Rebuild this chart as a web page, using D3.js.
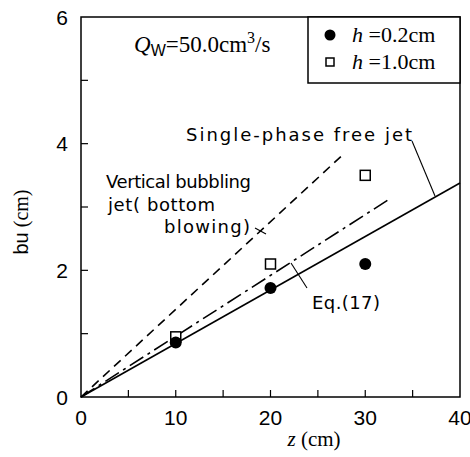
<!DOCTYPE html>
<html>
<head>
    <meta charset="utf-8">
    <title>bu vs z</title>
    <script src="https://d3js.org/d3.v7.min.js"></script>
    <style>
        body { margin: 0; background: #fff; }
    </style>
</head>
<body>
    <script type="text/javascript">
    // data
    const circleZ = [10, 20, 30];           // h = 0.2cm
    const circleB = [0.86, 1.72, 2.1];
    const squareZ = [10, 20, 30];           // h = 1.0cm
    const squareB = [0.95, 2.1, 3.5];
    const lineNames = ["free", "eq17", "bubbling"];
    const lineEndZ = [40, 32.4, 27.6];
    const lineEndB = [3.38, 3.11, 3.82];
    const xTicks = [0, 10, 20, 30, 40];
    const xMinor = [5, 15, 25, 35];
    const yTicks = [0, 2, 4, 6];
    const yMinor = [1, 3, 5];

    const width = 470, height = 457;
    const margin = {top: 17, right: 10, bottom: 60, left: 81};

    const x = d3.scaleLinear().domain([0, 40]).range([margin.left, width - margin.right]);
    const y = d3.scaleLinear().domain([0, 6]).range([height - margin.bottom, margin.top]);

    const svg = d3.select("body").append("svg")
        .attr("width", width)
        .attr("height", height);

    const sans = "'Liberation Sans', Arial, sans-serif";
    const serif = "'Liberation Serif', 'Times New Roman', serif";
    const label = "'DejaVu Sans', sans-serif";

    // frame
    svg.append("rect")
        .attr("x", x(0)).attr("y", y(6))
        .attr("width", x(40) - x(0)).attr("height", y(0) - y(6))
        .attr("fill", "none").attr("stroke", "#000").attr("stroke-width", 1.5);

    // ticks, pointing inward
    const g = svg.append("g").attr("stroke", "#000").attr("stroke-width", 1.2);
    g.selectAll(".xt").data(xTicks.concat(xMinor).filter(d => d > 0 && d < 40)).join("line")
        .attr("x1", d => x(d)).attr("x2", d => x(d))
        .attr("y1", y(0)).attr("y2", y(0) - 7);
    g.selectAll(".yt").data(yTicks.concat(yMinor).filter(d => d > 0 && d < 6)).join("line")
        .attr("x1", x(0)).attr("x2", x(0) + 7)
        .attr("y1", d => y(d)).attr("y2", d => y(d));

    svg.selectAll(".xl").data(xTicks).join("text")
        .attr("x", d => x(d)).attr("y", y(0) + 28)
        .attr("text-anchor", "middle")
        .style("font", "21px " + sans)
        .text(d => d);
    svg.selectAll(".yl").data(yTicks).join("text")
        .attr("x", x(0) - 13).attr("y", d => y(d) + 7.5)
        .attr("text-anchor", "end")
        .style("font", "21px " + sans)
        .text(d => d);

    // axis titles
    const xt = svg.append("text")
        .attr("x", 314).attr("y", 446)
        .attr("text-anchor", "middle")
        .style("font", "21px " + serif);
    xt.append("tspan").style("font-style", "italic").text("z");
    xt.append("tspan").text(" (cm)");

    const yt = svg.append("text")
        .attr("transform", "translate(28,222) rotate(-90)")
        .attr("text-anchor", "middle")
        .style("font", "20px " + serif);
    yt.append("tspan").style("font-family", sans).text("bu");
    yt.append("tspan").text(" (cm)");

    // lines
    const dashes = {free: null, eq17: "16,5,3,5", bubbling: "9,6"};
    svg.selectAll(".ln").data(lineNames).join("line")
        .attr("x1", x(0)).attr("y1", y(0))
        .attr("x2", (d, i) => x(lineEndZ[i]))
        .attr("y2", (d, i) => y(lineEndB[i]))
        .attr("stroke", "#000").attr("stroke-width", 1.6)
        .attr("stroke-dasharray", d => dashes[d]);

    // markers
    svg.selectAll(".sq").data(squareZ).join("rect")
        .attr("x", (d, i) => x(d) - 5)
        .attr("y", (d, i) => y(squareB[i]) - 5)
        .attr("width", 10).attr("height", 10)
        .attr("fill", "#fff").attr("stroke", "#000").attr("stroke-width", 1.5);
    svg.selectAll(".ci").data(circleZ).join("circle")
        .attr("cx", d => x(d))
        .attr("cy", (d, i) => y(circleB[i]))
        .attr("r", 6).attr("fill", "#000");

    // legend
    svg.append("rect")
        .attr("x", 308).attr("y", y(6))
        .attr("width", x(40) - 308).attr("height", 66)
        .attr("fill", "#fff").attr("stroke", "#000").attr("stroke-width", 1.5);
    svg.append("circle").attr("cx", 330).attr("cy", 35).attr("r", 5.5).attr("fill", "#000");
    svg.append("rect").attr("x", 326).attr("y", 58).attr("width", 8).attr("height", 8)
        .attr("fill", "#fff").attr("stroke", "#000").attr("stroke-width", 1.5);
    [["=0.2cm", 42], ["=1.0cm", 69]].forEach(([t, yy]) => {
        const tx = svg.append("text").attr("x", 352).attr("y", yy).style("font", "22px " + serif);
        tx.append("tspan").style("font-style", "italic").text("h ");
        tx.append("tspan").text(t);
    });

    // Qw label
    const q = svg.append("text").attr("x", 134).attr("y", 52).style("font", "23px " + serif);
    q.append("tspan").style("font-style", "italic").text("Q");
    q.append("tspan").attr("dy", 4).style("font", "16px " + sans).text("W");
    q.append("tspan").attr("dy", -4).text("=50.0cm");
    q.append("tspan").attr("dy", -9).style("font-size", "16px").text("3");
    q.append("tspan").attr("dy", 9).text("/s");

    // annotations
    const ann = [
        ["Single-phase free jet", 186, 141, 226],
        ["Vertical bubbling", 106, 188, 145],
        ["jet( bottom", 108, 211, 107],
        ["blowing)", 164, 233, 86],
        ["Eq.(17)", 312, 309, 68]
    ];
    svg.selectAll(".an").data(ann).join("text")
        .attr("x", d => d[1]).attr("y", d => d[2])
        .attr("textLength", d => d[3]).attr("lengthAdjust", "spacing")
        .style("font", "18px " + label)
        .text(d => d[0]);

    const leaders = [[412, 141, 435, 196], [255, 228, 266, 234], [291, 263, 307, 288]];
    svg.selectAll(".ld").data(leaders).join("line")
        .attr("x1", d => d[0]).attr("y1", d => d[1])
        .attr("x2", d => d[2]).attr("y2", d => d[3])
        .attr("stroke", "#000").attr("stroke-width", 1.1);
    </script>
</body>
</html>
